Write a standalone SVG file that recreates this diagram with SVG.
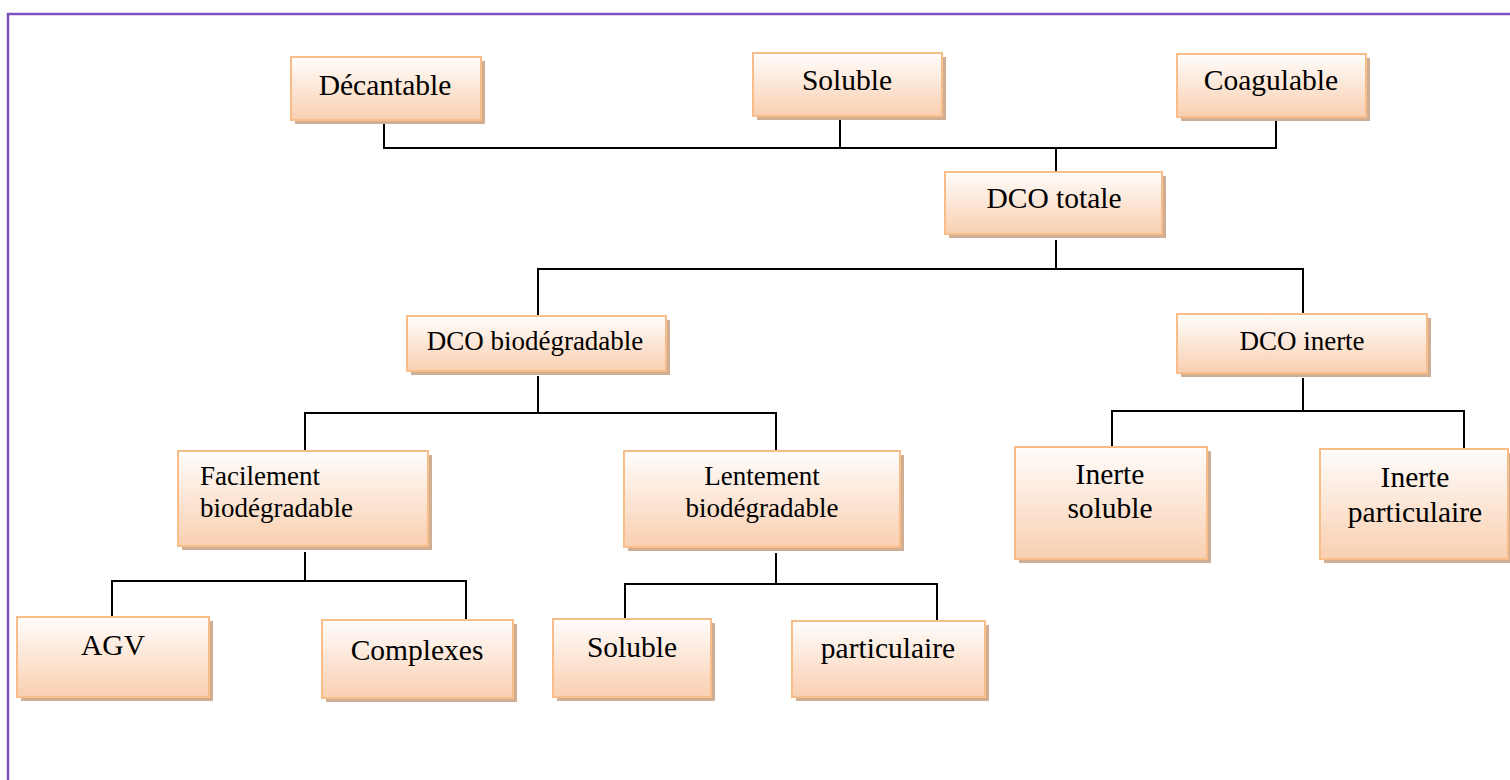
<svg xmlns="http://www.w3.org/2000/svg" width="1510" height="780" viewBox="0 0 1510 780">
<defs>
<linearGradient id="g" x1="0" y1="0" x2="0" y2="1">
<stop offset="0" stop-color="#fffdfc"/>
<stop offset="1" stop-color="#f9cfb0"/>
</linearGradient>
<style>
.sh{fill:#d0ae94;}
.bx{fill:url(#g);stroke:#f9bd8a;stroke-width:2;}
.t{font-family:"Liberation Serif","Times New Roman",serif;fill:#000;font-size:29.5px;text-anchor:middle;}
.s{font-size:27px;}
.c{fill:none;stroke:#000;stroke-width:2;}
</style>
</defs>
<rect width="1510" height="780" fill="#fff"/>
<rect x="8" y="14" width="1530" height="800" fill="none" stroke="#8150c0" stroke-width="2.5"/>
<g id="connectors">
<path class="c" d="M384 122V148H1276V120M840 118V148M1056 148V171"/>
<path class="c" d="M1056 240V269H538V316M1056 269H1303V315"/>
<path class="c" d="M538 376V413H305V450M538 413H776V450"/>
<path class="c" d="M1303 378V411H1112V447M1303 411H1464V448"/>
<path class="c" d="M305 552V581H112V617M305 581H466V620"/>
<path class="c" d="M776 553V584H625V620M776 584H937V621"/>
</g>
<g id="decantable"><rect class="sh" x="295" y="61" width="190" height="63"/><rect class="bx" x="291" y="57" width="190" height="63"/><text class="t" x="385" y="95">Décantable</text></g>
<g id="soluble-top"><rect class="sh" x="757" y="57" width="189" height="63"/><rect class="bx" x="753" y="53" width="189" height="63"/><text class="t" x="847" y="90">Soluble</text></g>
<g id="coagulable"><rect class="sh" x="1181" y="58" width="189" height="63"/><rect class="bx" x="1177" y="54" width="189" height="63"/><text class="t" x="1271" y="90">Coagulable</text></g>
<g id="dco-totale"><rect class="sh" x="949" y="176" width="217" height="62"/><rect class="bx" x="945" y="172" width="217" height="62"/><text class="t" x="1054" y="208">DCO totale</text></g>
<g id="dco-bio"><rect class="sh" x="411" y="320" width="259" height="55"/><rect class="bx" x="407" y="316" width="259" height="55"/><text class="t s" x="535" y="350">DCO biodégradable</text></g>
<g id="dco-inerte"><rect class="sh" x="1181" y="318" width="250" height="59"/><rect class="bx" x="1177" y="314" width="250" height="59"/><text class="t s" x="1302" y="350">DCO inerte</text></g>
<g id="facilement"><rect class="sh" x="182" y="455" width="250" height="95"/><rect class="bx" x="178" y="451" width="250" height="95"/><text class="t s" x="200" y="485" style="text-anchor:start">Facilement</text><text class="t s" x="200" y="517" style="text-anchor:start">biodégradable</text></g>
<g id="lentement"><rect class="sh" x="628" y="455" width="276" height="96"/><rect class="bx" x="624" y="451" width="276" height="96"/><text class="t s" x="762" y="485">Lentement</text><text class="t s" x="762" y="517">biodégradable</text></g>
<g id="inerte-soluble"><rect class="sh" x="1019" y="451" width="192" height="112"/><rect class="bx" x="1015" y="447" width="192" height="112"/><text class="t" x="1110" y="484">Inerte</text><text class="t" x="1110" y="518">soluble</text></g>
<g id="inerte-particulaire"><rect class="sh" x="1324" y="453" width="190" height="110"/><rect class="bx" x="1320" y="449" width="188" height="110"/><text class="t" x="1415" y="487">Inerte</text><text class="t" x="1415" y="522">particulaire</text></g>
<g id="agv"><rect class="sh" x="21" y="621" width="192" height="80"/><rect class="bx" x="17" y="617" width="192" height="80"/><text class="t" x="113" y="655">AGV</text></g>
<g id="complexes"><rect class="sh" x="326" y="624" width="191" height="78"/><rect class="bx" x="322" y="620" width="191" height="78"/><text class="t" x="417" y="660">Complexes</text></g>
<g id="soluble-bottom"><rect class="sh" x="557" y="623" width="158" height="78"/><rect class="bx" x="553" y="619" width="158" height="78"/><text class="t" x="632" y="657">Soluble</text></g>
<g id="particulaire"><rect class="sh" x="796" y="625" width="193" height="76"/><rect class="bx" x="792" y="621" width="193" height="76"/><text class="t" x="888" y="658">particulaire</text></g>
</svg>
